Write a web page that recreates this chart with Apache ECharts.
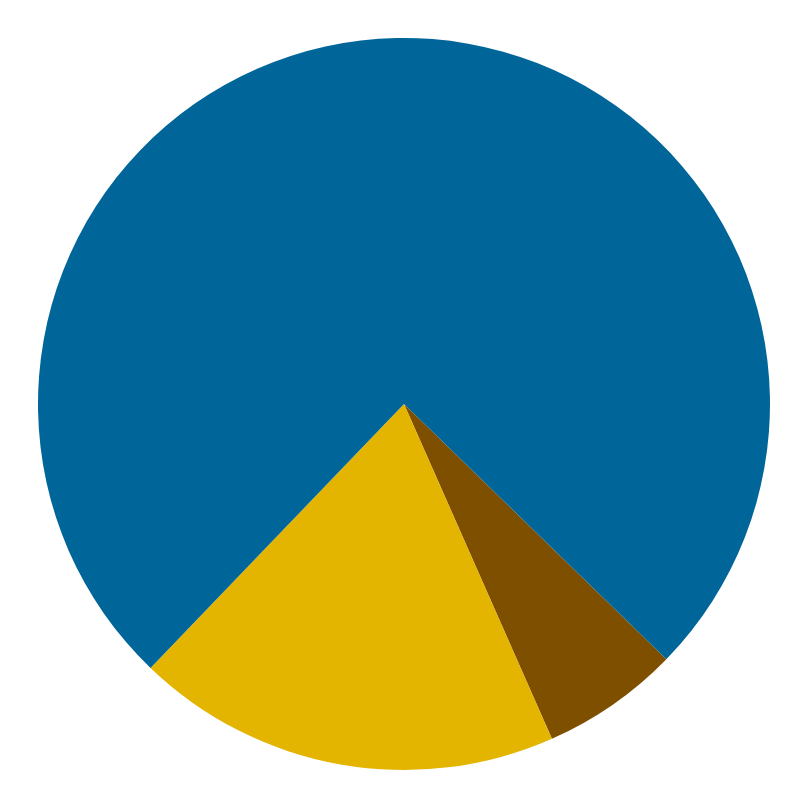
<!DOCTYPE html>
<html>
<head>
<meta charset="utf-8">
<script src="https://cdn.jsdelivr.net/npm/echarts@6/dist/echarts.min.js"></script>
<style>
  html, body { margin: 0; padding: 0; background: #fff; }
  #main { width: 800px; height: 800px; }
</style>
</head>
<body>
<div id="main"></div>
<script>
// slice names and values (percent)
var names = ['C', 'B', 'A'];
var values = [6.1, 18.8, 75.1];
var colors = ['#7f4f00', '#e3b400', '#006699'];

var chart = echarts.init(document.getElementById('main'));

var data = [];
for (var i = 0; i < names.length; i++) {
	data.push({ name: names[i], value: values[i], itemStyle: { color: colors[i] } });
}

chart.setOption({
	animation: false,
	series: [{
		type: 'pie',
		center: [404, 404],
		radius: [0, 366],
		startAngle: -44.2, // brown slice starts lower right
		clockwise: true,
		label: { show: false },
		labelLine: { show: false },
		itemStyle: { borderWidth: 0 },
		emphasis: { disabled: true },
		data: data
	}]
});
</script>
</body>
</html>
